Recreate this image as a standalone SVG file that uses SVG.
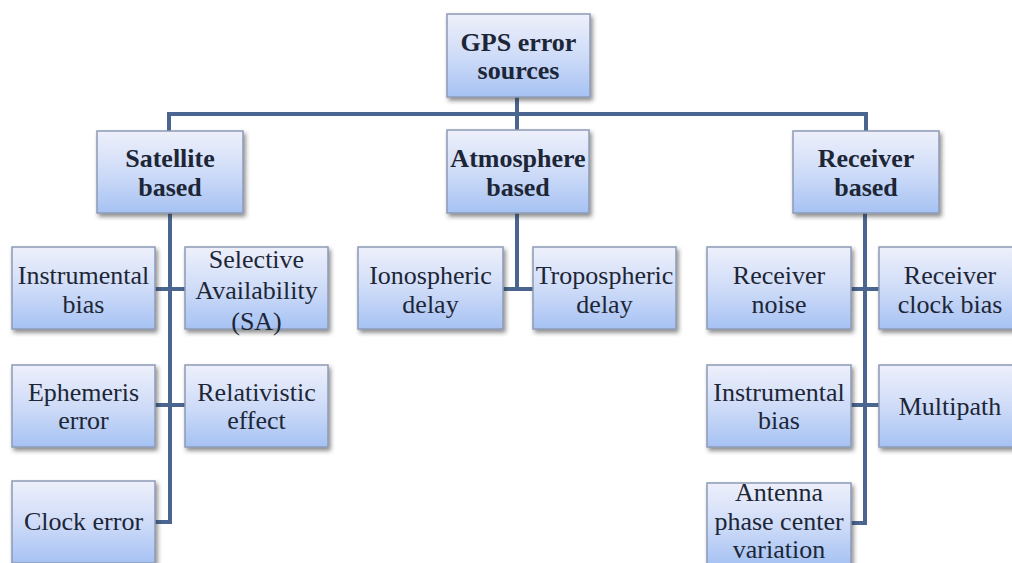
<svg xmlns="http://www.w3.org/2000/svg" width="1012" height="563" viewBox="0 0 1012 563">
<defs>
<linearGradient id="g" x1="0" y1="0" x2="0" y2="1">
<stop offset="0" stop-color="#eef0fb"/>
<stop offset="0.5" stop-color="#cfdcf8"/>
<stop offset="1" stop-color="#a6c2f3"/>
</linearGradient>
<filter id="sh" x="-10%" y="-10%" width="125%" height="130%">
<feDropShadow dx="2" dy="3" stdDeviation="2" flood-color="#333" flood-opacity="0.55"/>
</filter>
<style>
.box{fill:url(#g);stroke:#8d9bb6;stroke-width:1.5;filter:url(#sh)}
.t{font-family:"Liberation Serif","Times New Roman",serif;font-size:26px;fill:#1d2636;text-anchor:middle;dominant-baseline:central}
.b{font-weight:bold}
.c{fill:none;stroke:#4a6690;stroke-width:4;stroke-linejoin:miter}
</style>
</defs>
<rect width="1012" height="563" fill="#ffffff"/>
<g id="connectors">
<path class="c" d="M517 97V131M169 131V114H866V131"/>
<path class="c" d="M170 213V522H155M155 289H185M155 405H185"/>
<path class="c" d="M517 213V289M503 289H533"/>
<path class="c" d="M865 213V523H851M851 289H879M851 405H879"/>
</g>
<g id="root"><rect class="box" x="447" y="14" width="143" height="83"/><text class="t b" x="518.5" y="42">GPS error</text><text class="t b" x="518.5" y="70">sources</text></g>
<g id="satellite"><rect class="box" x="97" y="131" width="146" height="82"/><text class="t b" x="170" y="158">Satellite</text><text class="t b" x="170" y="187">based</text></g>
<g id="atmosphere"><rect class="box" x="447" y="130" width="142" height="83"/><text class="t b" x="518" y="158">Atmosphere</text><text class="t b" x="518" y="187">based</text></g>
<g id="receiver"><rect class="box" x="793" y="131" width="146" height="82"/><text class="t b" x="866" y="158">Receiver</text><text class="t b" x="866" y="187">based</text></g>
<g id="sat-instr"><rect class="box" x="12" y="247" width="143" height="82"/><text class="t" x="83.5" y="275">Instrumental</text><text class="t" x="83.5" y="304">bias</text></g>
<g id="sat-sa"><rect class="box" x="185" y="247" width="143" height="82"/><text class="t" x="256.5" y="259">Selective</text><text class="t" x="256.5" y="290">Availability</text><text class="t" x="256.5" y="321">(SA)</text></g>
<g id="sat-eph"><rect class="box" x="12" y="365" width="143" height="82"/><text class="t" x="83.5" y="392">Ephemeris</text><text class="t" x="83.5" y="420">error</text></g>
<g id="sat-rel"><rect class="box" x="185" y="365" width="143" height="82"/><text class="t" x="256.5" y="392">Relativistic</text><text class="t" x="256.5" y="420">effect</text></g>
<g id="sat-clock"><rect class="box" x="12" y="481" width="143" height="82"/><text class="t" x="83.5" y="521">Clock error</text></g>
<g id="atm-iono"><rect class="box" x="358" y="247" width="145" height="82"/><text class="t" x="430.5" y="275">Ionospheric</text><text class="t" x="430.5" y="304">delay</text></g>
<g id="atm-tropo"><rect class="box" x="533" y="247" width="143" height="82"/><text class="t" x="604.5" y="275">Tropospheric</text><text class="t" x="604.5" y="304">delay</text></g>
<g id="rec-noise"><rect class="box" x="707" y="247" width="144" height="82"/><text class="t" x="779" y="275">Receiver</text><text class="t" x="779" y="304">noise</text></g>
<g id="rec-clock"><rect class="box" x="879" y="247" width="143" height="82"/><text class="t" x="950" y="275">Receiver</text><text class="t" x="950" y="304">clock bias</text></g>
<g id="rec-instr"><rect class="box" x="707" y="365" width="144" height="82"/><text class="t" x="779" y="392">Instrumental</text><text class="t" x="779" y="420">bias</text></g>
<g id="rec-multi"><rect class="box" x="879" y="365" width="143" height="82"/><text class="t" x="950" y="406">Multipath</text></g>
<g id="rec-antenna"><rect class="box" x="707" y="483" width="144" height="82"/><text class="t" x="779" y="492">Antenna</text><text class="t" x="779" y="521">phase center</text><text class="t" x="779" y="549">variation</text></g>
</svg>
